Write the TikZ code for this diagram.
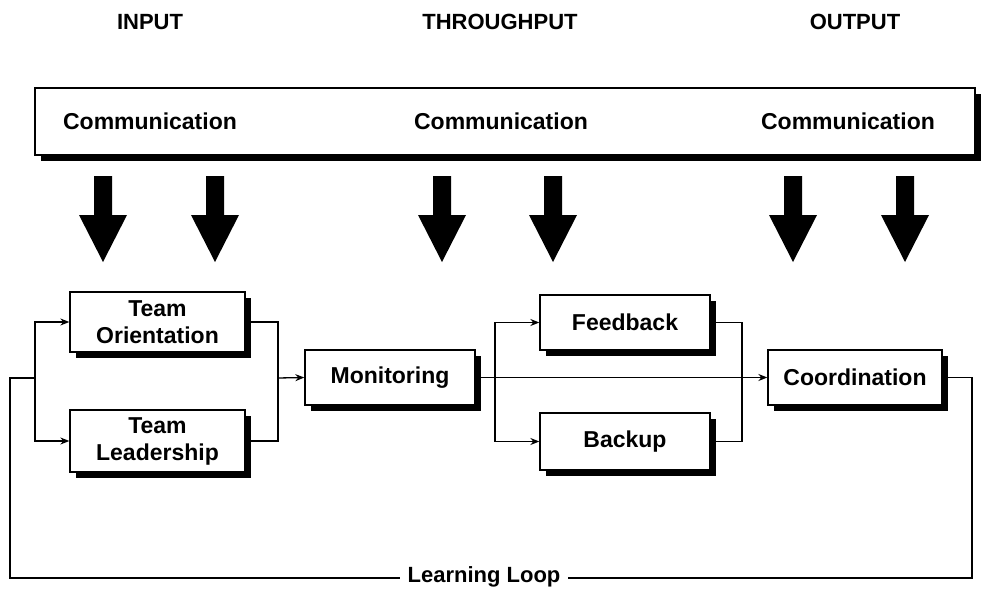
\documentclass[tikz,border=0pt]{standalone}
\usepackage{fontspec}
\setmainfont{Liberation Sans}
\usetikzlibrary{arrows.meta}
\begin{document}
\begin{tikzpicture}[x=1pt,y=-1pt,
  box/.style={draw,line width=1.3pt,fill=white,align=center,font=\bfseries\fontsize{23}{27}\selectfont},
  hdr/.style={font=\bfseries\fontsize{22}{24}\selectfont},
  ln/.style={line width=1.3pt},
  arr/.style={ln,-{Stealth[length=9pt,width=7pt]}}]
\useasboundingbox (0,0) rectangle (982,594);
\node[hdr] (hi) at (150,22) {INPUT};
\node[hdr] (ht) at (500,22) {THROUGHPUT};
\node[hdr] (ho) at (855,22) {OUTPUT};
% big box
\fill (41,94) rectangle (981,161);
\draw[line width=1.3pt,fill=white] (35,88) rectangle (975,155);
\node[box,draw=none,fill=none] (c1) at (150,121) {Communication};
\node[box,draw=none,fill=none] (c2) at (501,121) {Communication};
\node[box,draw=none,fill=none] (c3) at (848,121) {Communication};
% down arrows
\foreach \x in {103,215,442,553,793,905}{
  \fill (\x-9,176) -- (\x+9,176) -- (\x+9,215) -- (\x+24,215) -- (\x,262) -- (\x-24,215) -- (\x-9,215) -- cycle;}
% boxes with shadows
\newcommand{\shbox}[6]{%
  \fill (#2+6,#3+6) rectangle (#4+6,#5+6);
  \node[box,minimum width={#4-#2},minimum height={#5-#3},inner sep=0pt] (#1) at ({(#2+#4)/2},{(#3+#5)/2}) {#6};}
\shbox{to}{70}{292}{245}{352}{Team\\Orientation}
\shbox{tl}{70}{410}{245}{472}{Team\\Leadership}
\shbox{mo}{305}{350}{475}{405}{Monitoring}
\shbox{fb}{540}{295}{710}{350}{Feedback}
\shbox{bu}{540}{413}{710}{470}{Backup}
\shbox{co}{768}{350}{942}{405}{Coordination}
\coordinate (sp) at (35,378);
\coordinate (j1) at (278,378);
\coordinate (j2) at (495,378);
\coordinate (j3) at (742,378);
\draw[arr] (sp) |- (to.west);
\draw[arr] (sp) |- (tl.west);
\draw[ln] (to.east) -| (j1);
\draw[ln] (tl.east) -| (j1);
\draw[arr] (j1) -- (mo.west);
\draw[arr] (mo.east) -- (co.west);
\draw[arr] (j2) |- (fb.west);
\draw[arr] (j2) |- (bu.west);
\draw[ln] (fb.east) -| (j3);
\draw[ln] (bu.east) -| (j3);
\draw[ln] (co.east) -| (972,578) -- (10,578) |- (sp);
\node[hdr,fill=white,inner xsep=8pt] (ll) at (484,577) {Learning Loop};
\end{tikzpicture}
\end{document}
